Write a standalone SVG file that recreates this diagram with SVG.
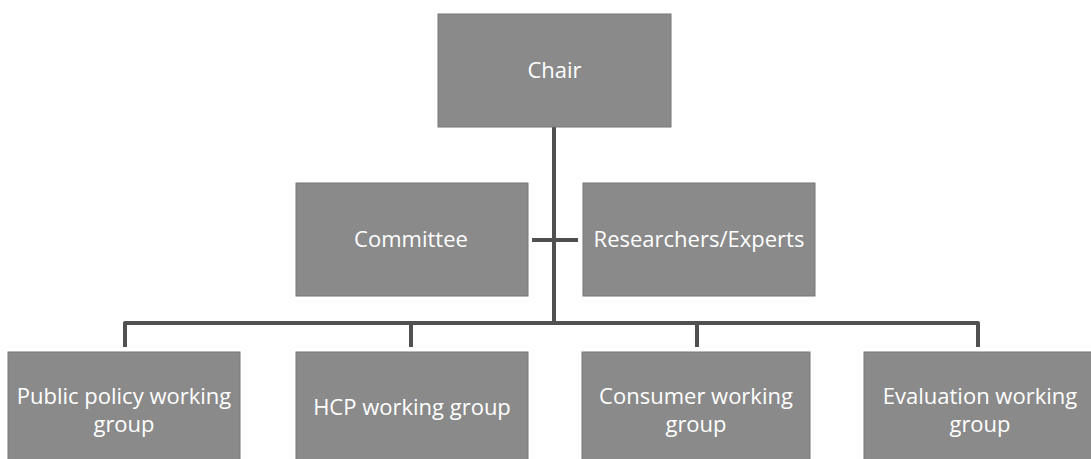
<svg xmlns="http://www.w3.org/2000/svg" width="1091" height="459" viewBox="0 0 1091 459">
<style>
.box{fill:#8a8a8a;stroke:#767676;stroke-width:1}
.lbl{font-family:"Open Sans","Liberation Sans",sans-serif;font-size:22px;fill:#ffffff;text-anchor:middle}
.ln{fill:none;stroke:#505050;stroke-width:4;stroke-linejoin:round}
</style>
<rect width="1091" height="459" fill="#ffffff"/>
<g id="connectors">
<path class="ln" d="M554,127 V323"/>
<path class="ln" d="M532,240 H578"/>
<path class="ln" d="M125,347 V323 H978 V347"/>
<path class="ln" d="M411,323 V347"/>
<path class="ln" d="M697,323 V347"/>
</g>
<g id="chair"><rect class="box" x="438" y="14" width="233" height="113"/><text class="lbl" x="554.5" y="78">Chair</text></g>
<g id="committee"><rect class="box" x="296" y="183" width="232" height="113"/><text class="lbl" x="411" y="247">Committee</text></g>
<g id="researchers"><rect class="box" x="583" y="183" width="232" height="113"/><text class="lbl" x="699" y="247">Researchers/Experts</text></g>
<g id="public"><rect class="box" x="8" y="352" width="232" height="113"/><text class="lbl" x="124" y="404">Public policy working</text><text class="lbl" x="124" y="432">group</text></g>
<g id="hcp"><rect class="box" x="296" y="352" width="232" height="113"/><text class="lbl" x="412" y="415">HCP working group</text></g>
<g id="consumer"><rect class="box" x="582" y="352" width="228" height="113"/><text class="lbl" x="696" y="404">Consumer working</text><text class="lbl" x="696" y="432">group</text></g>
<g id="evaluation"><rect class="box" x="864" y="352" width="232" height="113"/><text class="lbl" x="980" y="404">Evaluation working</text><text class="lbl" x="980" y="432">group</text></g>
</svg>
